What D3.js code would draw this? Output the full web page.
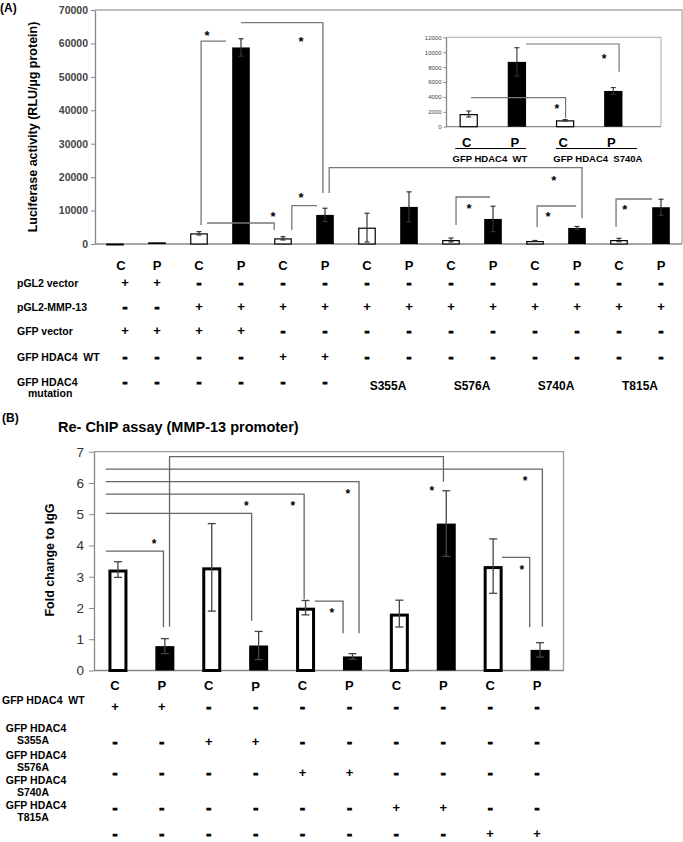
<!DOCTYPE html>
<html><head><meta charset="utf-8">
<script src="https://cdn.jsdelivr.net/npm/d3@7"></script>
<style>body{margin:0;background:#fff}text{font-family:"Liberation Sans",Arial,sans-serif}</style>
</head><body><svg id="c" width="683" height="842"></svg>
<script>
// ---------- DATA ----------
const catsA = ["C","P","C","P","C","P","C","P","C","P","C","P","C","P"];
const valuesA = [150, 500, 3200, 58800, 1700, 8700, 4900, 11100, 1200, 7500, 900, 4800, 1200, 11000];
const errA    = [0, 0, 500, 2600, 500, 2000, 4300, 4500, 600, 3800, 150, 450, 500, 2400];
const ticksA = [0,10000,20000,30000,40000,50000,60000,70000];

const catsInset = ["C","P","C","P"];
const valuesInset = [1700, 8700, 860, 4800];
const errInset = [400, 1900, 100, 450];
const ticksInset = [0,2000,4000,6000,8000,10000,12000];
const insetGroups = ["GFP HDAC4  WT","GFP HDAC4  S740A"];

const tableARowLabels = [["pGL2 vector"],["pGL2-MMP-13"],["GFP vector"],["GFP HDAC4  WT"],["GFP HDAC4","mutation"]];
const tableAMarks = [
  ["+","+","-","-","-","-","-","-","-","-","-","-","-","-"],
  ["-","-","+","+","+","+","+","+","+","+","+","+","+","+"],
  ["+","+","+","+","-","-","-","-","-","-","-","-","-","-"],
  ["-","-","-","-","+","+","-","-","-","-","-","-","-","-"],
  ["-","-","-","-","-","-"]
];
const mutationsA = ["S355A","S576A","S740A","T815A"];

const catsB = ["C","P","C","P","C","P","C","P","C","P"];
const valuesB = [3.23, 0.78, 3.30, 0.80, 2.01, 0.45, 1.82, 4.70, 3.34, 0.66];
const errB    = [0.25, 0.24, 1.40, 0.45, 0.23, 0.09, 0.43, 1.05, 0.87, 0.23];
const ticksB = [0,1,2,3,4,5,6,7];

const tableBRowLabels = [["GFP HDAC4  WT"],["GFP HDAC4","S355A"],["GFP HDAC4","S576A"],["GFP HDAC4","S740A"],["GFP HDAC4","T815A"]];
const tableBMarks = [
  ["+","+","-","-","-","-","-","-","-","-"],
  ["-","-","+","+","-","-","-","-","-","-"],
  ["-","-","-","-","+","+","-","-","-","-"],
  ["-","-","-","-","-","-","+","+","-","-"],
  ["-","-","-","-","-","-","-","-","+","+"]
];

// significance brackets: points as [category index (fractional), value]
const bracketsA = [
  {pts:[[2.64,60700],[2.05,60700],[2.05,5700]], star:[2.19,63100]},
  {pts:[[2.19,6280],[3.79,6280],[3.79,4190]], star:[3.76,8680]},
  {pts:[[4.21,4190],[4.21,11460],[4.81,11460]], star:[4.43,14360]},
  {pts:[[3.0,66200],[4.95,66200],[4.95,15260]], star:[4.43,61320]},
  {pts:[[5.1,15260],[5.1,22820],[11.12,22820],[11.12,7780]], star:[10.45,19740]},
  {pts:[[8.12,5680],[8.12,14060],[8.93,14060]], star:[8.43,11070]},
  {pts:[[10.05,5090],[10.05,11370],[10.98,11370]], star:[10.31,8680]},
  {pts:[[11.93,5090],[11.93,13460],[12.79,13460]], star:[12.14,10770]}
];
const bracketsInset = [
  {pts:[[0.05,3893],[2.01,3893],[2.01,1128]], star:[1.83,2644]},
  {pts:[[1.19,11100],[3.12,11100],[3.12,7383]], star:[2.81,9396]}
];
const bracketsB = [
  {pts:[[-0.26,3.82],[0.97,3.82],[0.97,1.38]], star:[0.77,4.12]},
  {pts:[[-0.26,5.03],[2.85,5.03],[2.85,1.59]], star:[2.74,5.33]},
  {pts:[[-0.26,5.64],[3.97,5.64],[3.97,2.28]], star:[3.73,5.33]},
  {pts:[[-0.26,6.04],[5.14,6.04],[5.14,1.19]], star:[4.90,5.72]},
  {pts:[[-0.26,6.44],[9.05,6.44],[9.05,1.40]], star:[8.68,6.13]},
  {pts:[[1.10,1.40],[1.10,6.84],[6.94,6.84],[6.94,6.04]], star:[6.69,5.80]},
  {pts:[[4.20,2.22],[4.80,2.22],[4.80,1.19]], star:[4.56,1.91]},
  {pts:[[8.19,3.62],[8.78,3.62],[8.78,1.38]], star:[8.61,3.27]}
];

// ---------- DRAW ----------
const svg = d3.select("#c");
const fx = (s, f) => s(0) + s.bandwidth()/2 + f*s.step();

function drawAxis(g, y, ticks, x0, size, pad, fs, weight, color, fmt) {
  const ax = d3.axisLeft(y).tickValues(ticks).tickSize(size).tickSizeOuter(0).tickPadding(pad).tickFormat(fmt);
  const a = g.append("g").attr("transform", `translate(${x0},0)`).call(ax);
  a.select(".domain").attr("stroke", "#888").attr("stroke-width", 1.3);
  a.selectAll(".tick line").attr("stroke", "#888");
  a.selectAll(".tick text").attr("font-size", fs).attr("font-weight", weight).attr("fill", color)
    .attr("font-family", '"Liberation Sans",Arial,sans-serif');
}
function drawBars(g, x, y, cats, vals, errs, o) {
  g.selectAll(null).data(vals).enter().append("rect")
    .attr("x", (d,i) => x(i) + (cats[i]==="C" ? o.sw/2 : 0))
    .attr("width", (d,i) => x.bandwidth() - (cats[i]==="C" ? o.sw : 0))
    .attr("y", (d,i) => y(d) + (cats[i]==="C" ? o.sw/2 : 0))
    .attr("height", (d,i) => Math.max(0.8, y(0) - y(d) - (cats[i]==="C" ? o.sw/2 : 0)))
    .attr("fill", (d,i) => cats[i]==="C" ? "#fff" : "#000")
    .attr("stroke", (d,i) => cats[i]==="C" ? "#000" : "none")
    .attr("stroke-width", o.sw);
  const eg = g.append("g").attr("stroke", o.ec).attr("stroke-width", o.ew).attr("fill","none");
  vals.forEach((v,i) => {
    if (!errs[i]) return;
    const cx = x(i) + x.bandwidth()/2;
    const t = y(v+errs[i]), b = y(Math.max(0, v-errs[i]));
    eg.append("line").attr("x1",cx).attr("x2",cx).attr("y1",t).attr("y2",b);
    eg.append("line").attr("x1",cx-o.cap/2).attr("x2",cx+o.cap/2).attr("y1",t).attr("y2",t);
    eg.append("line").attr("x1",cx-o.cap/2).attr("x2",cx+o.cap/2).attr("y1",b).attr("y2",b);
  });
}
function drawBrackets(g, x, y, br, color, w, fs) {
  const line = d3.line().x(p => fx(x, p[0])).y(p => y(p[1]));
  br.forEach(b => {
    g.append("path").attr("d", line(b.pts)).attr("fill","none").attr("stroke",color).attr("stroke-width",w);
    g.append("text").attr("x", fx(x, b.star[0])).attr("y", y(b.star[1]) + fs*0.5)
      .attr("text-anchor","middle").attr("font-size",fs).attr("font-weight","bold").text("*");
  });
}
function txt(g, x, y, s, fs, opts={}) {
  return g.append("text").attr("x",x).attr("y",y).attr("font-size",fs)
    .attr("font-weight", opts.w || "bold").attr("text-anchor", opts.a || "start")
    .attr("fill", opts.c || "#000").style("white-space","pre").text(s);
}
function mark(g, x, yc, s) {
  const fs = s === "+" ? 13 : 15;
  const t = txt(g, x, yc + fs*0.33, s, fs, {a:"middle"});
  if (s === "-") t.attr("stroke","#000").attr("stroke-width",0.9);
}

// ===== Panel A =====
const gA = svg.append("g");
const xA = d3.scaleBand().domain(d3.range(catsA.length)).range([94, 682]).paddingInner(0.58).paddingOuter(0.29);
const yA = d3.scaleLinear().domain([0,70000]).range([244, 10]);
gA.append("path").attr("d", `M95,${yA(70000)}H682V${yA(0)}`).attr("fill","none").attr("stroke","#aaa").attr("stroke-width",1.3);
gA.append("line").attr("x1",95).attr("x2",682).attr("y1",yA(0)).attr("y2",yA(0)).attr("stroke","#888").attr("stroke-width",1.3);
drawAxis(gA, yA, ticksA, 95, 4, 3, 10.5, "bold", "#444", d => String(d));
drawBars(gA, xA, yA, catsA, valuesA, errA, {sw:1.2, ec:"#333", ew:1.2, cap:5});
drawBrackets(gA, xA, yA, bracketsA, "#777", 1.3, 13);
txt(gA, 0, 12, "(A)", 12);
txt(gA, 0, 0, "Luciferase activity (RLU/µg protein)", 12.5, {a:"middle"})
  .attr("transform", `translate(37,127) rotate(-90)`);
catsA.forEach((c,i) => txt(gA, fx(xA,i) + (i===0 ? 6 : 0), 270, c, 13, {a:"middle"}));

// inset
const gI = svg.append("g");
const xI = d3.scaleBand().domain(d3.range(catsInset.length)).range([444.6, 637.4]).paddingInner(0.62).paddingOuter(0.31);
const yI = d3.scaleLinear().domain([0,12000]).range([126.7, 37.3]);
gI.append("path").attr("d", `M446,${yI(12000)}H661V${yI(0)}`).attr("fill","none").attr("stroke","#aaa").attr("stroke-width",1);
gI.append("line").attr("x1",446).attr("x2",661).attr("y1",yI(0)).attr("y2",yI(0)).attr("stroke","#888").attr("stroke-width",1.2);
drawAxis(gI, yI, ticksInset, 446, 2.5, 2, 6, "normal", "#444", d => String(d));
drawBars(gI, xI, yI, catsInset, valuesInset, errInset, {sw:1.2, ec:"#333", ew:1.1, cap:5});
drawBrackets(gI, xI, yI, bracketsInset, "#777", 1.2, 12);
catsInset.forEach((c,i) => txt(gI, fx(xI,i) - 2, 146.5, c, 13, {a:"middle"}));
[[-0.28,1.19],[1.81,3.49]].forEach(r => gI.append("line").attr("x1",fx(xI,r[0])).attr("x2",fx(xI,r[1]))
  .attr("y1",148.5).attr("y2",148.5).attr("stroke","#000").attr("stroke-width",1.1));
insetGroups.forEach((s,i) => txt(gI, fx(xI, i===0 ? 0.44 : 2.68), 161.5, s, 9.5, {a:"middle"}));

// table A
const gTA = svg.append("g");
const rowYA = [283, 307, 331, 357, 382];
tableARowLabels.forEach((lab,r) => {
  txt(gTA, 17, rowYA[r] + 4, lab[0], 10.5);
  if (lab.length > 1) txt(gTA, 28, rowYA[r] + 15, lab[1], 10.5);
});
tableAMarks.forEach((row,r) => row.forEach((m,i) => mark(gTA, fx(xA,i) + (i===0 ? 10 : 0), rowYA[r], m)));
mutationsA.forEach((m,k) => txt(gTA, fx(xA, 6 + 2*k + 0.5), 389.5, m, 12, {a:"middle"}));

// ===== Panel B =====
const gB = svg.append("g");
const xB = d3.scaleBand().domain(d3.range(catsB.length)).range([94.5, 563.5]).paddingInner(0.595).paddingOuter(0.2975);
const yB = d3.scaleLinear().domain([0,7]).range([670.5, 451.7]);
gB.append("path").attr("d", `M94,${yB(7)}H563.5V${yB(0)}`).attr("fill","none").attr("stroke","#999").attr("stroke-width",1.3);
gB.append("line").attr("x1",94).attr("x2",563.5).attr("y1",yB(0)).attr("y2",yB(0)).attr("stroke","#888").attr("stroke-width",1.3);
drawAxis(gB, yB, ticksB, 94, 5, 5, 13.5, "normal", "#333", d => String(d));
drawBars(gB, xB, yB, catsB, valuesB, errB, {sw:3, ec:"#444", ew:1.3, cap:8});
drawBrackets(gB, xB, yB, bracketsB, "#666", 1.3, 12);
txt(gB, 2, 422, "(B)", 12);
txt(gB, 58, 431.5, "Re- ChIP assay (MMP-13 promoter)", 14.5);
txt(gB, 0, 0, "Fold change to IgG", 12.5, {a:"middle"}).attr("transform", `translate(54,560) rotate(-90)`);
catsB.forEach((c,i) => txt(gB, fx(xB,i) - 3, 689.5 + (i===3 ? 1.5 : 0), c, 13, {a:"middle"}));

// table B
const gTB = svg.append("g");
const rowYB = [707, 742, 773, 808, 834];
const labelYB = [704, 732, 759, 784, 809];
tableBRowLabels.forEach((lab,r) => {
  if (lab.length === 1) txt(gTB, 2, labelYB[r], lab[0], 10.5);
  else { txt(gTB, 36, labelYB[r], lab[0], 10.5, {a:"middle"}); txt(gTB, 33, labelYB[r] + 12, lab[1], 10.5, {a:"middle"}); }
});
tableBMarks.forEach((row,r) => row.forEach((m,i) => mark(gTB, fx(xB,i) - 3, rowYB[r], m)));
</script></body></html>
